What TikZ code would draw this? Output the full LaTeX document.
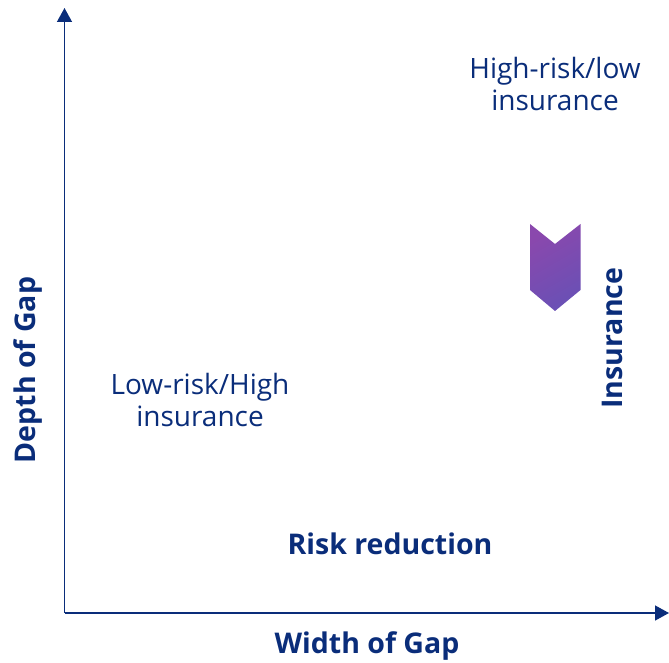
\documentclass[tikz,border=0pt]{standalone}
\usepackage{fontspec}
\setmainfont{Open Sans}
\usetikzlibrary{arrows.meta}
\definecolor{navy}{HTML}{0A2D7A}
\definecolor{chevtop}{HTML}{8A48AD}
\definecolor{chevbot}{HTML}{6A50B5}
\begin{document}
\begin{tikzpicture}[x=1pt,y=1pt,
  axis/.style={draw=navy,line width=1.4pt,-{Triangle[length=14pt,width=15pt]}},
  lbl/.style={text=navy,font=\fontsize{28}{32}\selectfont,align=center,inner sep=0pt},
  blbl/.style={text=navy,font=\fontsize{28.5}{32}\selectfont\bfseries,align=center,inner sep=0pt}]
\useasboundingbox (0,0) rectangle (669,662);
\coordinate (o) at (64.5,49);
\coordinate (ytip) at (64.5,654);
\coordinate (xtip) at (669,49);
\draw[axis] (o) -- (ytip);
\draw[axis] (o) -- (xtip);
\shade[top color=chevtop,bottom color=chevbot,shading angle=30]
  (530,438) -- (555,418) -- (580.5,438) -- (580.5,372) -- (555,351) -- (530,372) -- cycle;
\node[lbl] (hr) at (555,578) {High-risk/low\\insurance};
\node[lbl] (lr) at (200,262) {Low-risk/High\\insurance};
\node[blbl] (rr) at (390,118) {Risk reduction};
\node[blbl] (wg) at (367,16) {Width of Gap};
\node[blbl,rotate=90] (dg) at (28,292) {Depth of Gap};
\node[blbl,rotate=90] (ins) at (612,324) {Insurance};
\end{tikzpicture}
\end{document}
